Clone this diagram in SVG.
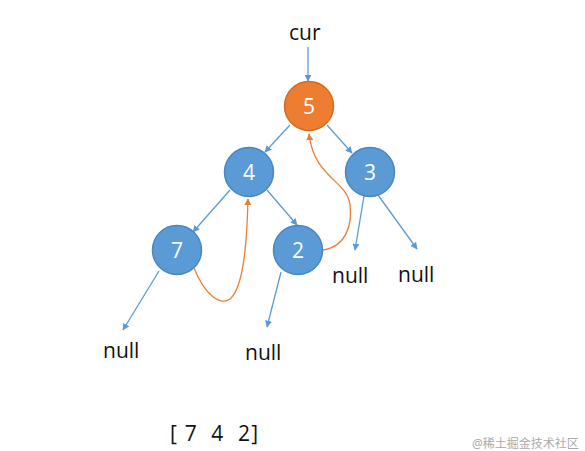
<svg xmlns="http://www.w3.org/2000/svg" width="585" height="451" viewBox="0 0 585 451">
<defs>
<marker id="ab" viewBox="0 0 10 10" refX="9" refY="5" markerWidth="7" markerHeight="7" orient="auto" markerUnits="userSpaceOnUse"><path d="M0,0 L10,5 L0,10 z" fill="#5B9BD5"/></marker>
<marker id="ao" viewBox="0 0 10 10" refX="9" refY="5" markerWidth="7" markerHeight="7" orient="auto" markerUnits="userSpaceOnUse"><path d="M0,0 L10,5 L0,10 z" fill="#ED7D31"/></marker>
<style>
.n{fill:#5B9BD5;stroke:#4A86C0;stroke-width:1.5}
.r{fill:#ED7D31;stroke:#D56A20;stroke-width:1.5}
.v{font-family:"Open Sans","Noto Sans",sans-serif;font-size:21px;fill:#fff;text-anchor:middle}
.t{font-family:"Open Sans","Noto Sans",sans-serif;font-size:21px;fill:#111}
.e{stroke:#5B9BD5;stroke-width:1.3;fill:none;marker-end:url(#ab)}
.o{stroke:#ED7D31;stroke-width:1.3;fill:none;marker-end:url(#ao)}
</style>
</defs>
<rect width="585" height="451" fill="#fff"/>
<g id="connectors">
<line class="e" x1="308" y1="47" x2="308" y2="81"/>
<line class="e" x1="290" y1="125" x2="265" y2="152"/>
<line class="e" x1="327" y1="125" x2="352" y2="153"/>
<line class="e" x1="230" y1="190" x2="193" y2="232"/>
<line class="e" x1="267" y1="190" x2="297" y2="225"/>
<line class="e" x1="364" y1="196" x2="355" y2="250"/>
<line class="e" x1="378" y1="195" x2="417" y2="249"/>
<line class="e" x1="159" y1="271" x2="123" y2="330"/>
<line class="e" x1="281" y1="272" x2="267" y2="327"/>
<path class="o" d="M194,268 C205,295 220,306 230,299 C244,287 247,240 248,199"/>
<path class="o" d="M323,250 C348,246 352,222 350,205 C347,180 314,178 309,134"/>
</g>
<text class="t" x="289" y="40">cur</text>
<g id="n5"><circle class="r" cx="309" cy="106" r="24.5"/><text class="v" x="309" y="114">5</text></g>
<g id="n4"><circle class="n" cx="249" cy="172" r="24.5"/><text class="v" x="249" y="180">4</text></g>
<g id="n3"><circle class="n" cx="370" cy="172" r="24.5"/><text class="v" x="370" y="180">3</text></g>
<g id="n7"><circle class="n" cx="177" cy="250" r="24.5"/><text class="v" x="177" y="258">7</text></g>
<g id="n2"><circle class="n" cx="298" cy="250" r="24.5"/><text class="v" x="298" y="258">2</text></g>
<g id="null1"><text class="t" x="103" y="358">null</text></g>
<g id="null2"><text class="t" x="245" y="360">null</text></g>
<g id="null3"><text class="t" x="332" y="283">null</text></g>
<g id="null4"><text class="t" x="398" y="282">null</text></g>
<text class="t" x="170" y="441" xml:space="preserve" style="white-space:pre" textLength="88">[ 7  4  2]</text>
<text x="472" y="448" font-family="'Noto Sans','Noto Sans CJK SC',sans-serif" font-size="12" fill="#aaa">@稀土掘金技术社区</text>
</svg>
